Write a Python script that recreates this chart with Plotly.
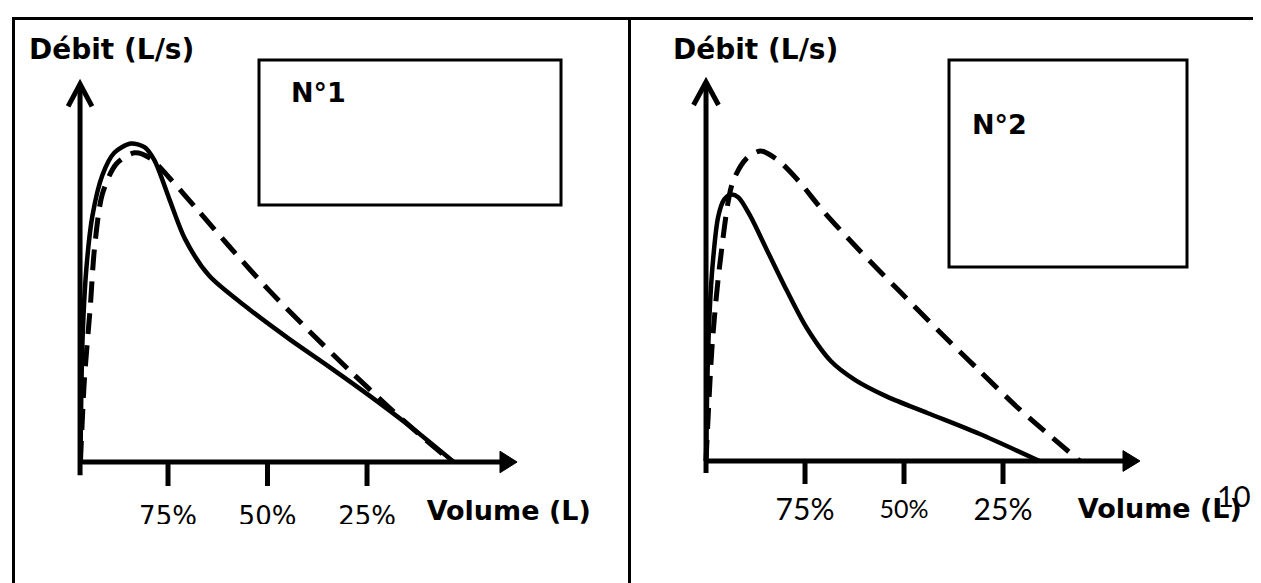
import plotly.graph_objects as go

W, H = 1261, 583

# ---------------- data (volume in % of vital capacity remaining, flow in L/s)
tick_vals = [75, 50, 25]
tick_labels = ["75%", "50%", "25%"]

vol1_solid = [97.0, 96.5, 95.5, 94.0, 91.5, 88.5, 84.4, 80.9, 78.4, 74.8, 70.8, 64.7, 54.6, 44.6, 34.5, 24.4, 14.3, 3.2]
flow1_solid = [0, 2.99, 4.85, 6.15, 7.17, 7.73, 7.96, 7.87, 7.54, 6.61, 5.59, 4.66, 3.82, 3.08, 2.38, 1.66, 0.90, 0]
vol1_dash = [97.0, 96.0, 94.5, 93.5, 91.5, 88.0, 83.4, 79.4, 74.8, 67.8, 59.7, 49.6, 39.5, 29.4, 19.3, 11.3, 3.6]
flow1_dash = [0, 2.06, 3.92, 5.31, 6.70, 7.45, 7.73, 7.59, 7.12, 6.33, 5.40, 4.29, 3.27, 2.29, 1.35, 0.64, 0]

vol2_solid = [100, 99.4, 98.4, 96.9, 95.4, 93.8, 91.8, 88.8, 84.7, 79.6, 74.6, 68.5, 62.4, 54.3, 44.1, 31.0, 15.8]
flow2_solid = [0, 2.96, 4.82, 6.12, 6.54, 6.66, 6.59, 6.12, 5.29, 4.26, 3.33, 2.50, 2.03, 1.61, 1.20, 0.68, 0]
vol2_dash = [100, 98.4, 96.4, 93.3, 89.8, 86.2, 81.7, 76.6, 70.5, 61.4, 51.3, 41.1, 31.0, 20.8, 5.6]
flow2_dash = [0, 2.96, 5.01, 6.96, 7.56, 7.75, 7.51, 7.00, 6.26, 5.28, 4.26, 3.24, 2.26, 1.29, 0]

panel_titles = ["N°1", "N°2"]
y_title = "Débit (L/s)"
x_title = "Volume (L)"
page_number = "10"

# ---------------- figure
fig = go.Figure()
BOLD = "DejaVu Sans"

def curves(xa, ya, vs, fs, vd, fd):
    fig.add_trace(go.Scatter(x=vd, y=fd, mode="lines", xaxis=xa, yaxis=ya,
                             line=dict(color="black", width=5, dash="21px,11px", shape="spline", smoothing=0.8),
                             hoverinfo="skip", showlegend=False))
    fig.add_trace(go.Scatter(x=vs, y=fs, mode="lines", xaxis=xa, yaxis=ya,
                             line=dict(color="black", width=4.5, shape="spline", smoothing=0.8),
                             hoverinfo="skip", showlegend=False))

curves("x", "y", vol1_solid, flow1_solid, vol1_dash, flow1_dash)
curves("x2", "y2", vol2_solid, flow2_solid, vol2_dash, flow2_dash)

shapes = []

def axes(xr, yr, origin, x_end, y_top, y_bot, tick_bot, chev_dx, chev_dy, tri_dx, tri_dy):
    line = dict(color="black", width=5)
    # y axis
    shapes.append(dict(type="line", xref=xr, yref=yr, x0=origin, x1=origin, y0=y_bot, y1=y_top, line=line))
    shapes.append(dict(type="path", xref=xr, yref=yr,
                       path=f"M{origin + chev_dx},{y_top - chev_dy} L{origin},{y_top} L{origin - chev_dx},{y_top - chev_dy}",
                       line=dict(color="black", width=5)))
    # x axis
    shapes.append(dict(type="line", xref=xr, yref=yr, x0=origin, x1=x_end + tri_dx * 0.5, y0=0, y1=0, line=line))
    shapes.append(dict(type="path", xref=xr, yref=yr,
                       path=f"M{x_end},0 L{x_end + tri_dx},{tri_dy} L{x_end + tri_dx},{-tri_dy} Z",
                       fillcolor="black", line=dict(color="black", width=1)))
    for tv in tick_vals:
        shapes.append(dict(type="line", xref=xr, yref=yr, x0=tv, x1=tv, y0=0, y1=tick_bot,
                           line=dict(color="black", width=5)))

axes("x", "y", 97.1, -12.7, 9.45, -0.33, -0.6, 3.0, 0.56, 4.3, 0.27)
axes("x2", "y2", 100.0, -9.6, 9.475, -0.3, -0.575, 3.15, 0.575, 4.3, 0.26)

# tick labels and x titles as text traces (clipped by the plot area like the original)
fig.add_trace(go.Scatter(x=tick_vals, y=[-1.42] * 3, text=tick_labels, mode="text", xaxis="x", yaxis="y",
                         textfont=dict(family="DejaVu Sans", size=26, color="black"),
                         textposition="middle center", cliponaxis=True, hoverinfo="skip", showlegend=False))
fig.add_trace(go.Scatter(x=[-10.6], y=[-1.29], text=[f"<b>{x_title}</b>"], mode="text", xaxis="x", yaxis="y",
                         textfont=dict(family=BOLD, size=27, color="black"),
                         textposition="middle center", cliponaxis=True, hoverinfo="skip", showlegend=False))

fig.add_trace(go.Scatter(x=tick_vals, y=[-1.275] * 3, text=tick_labels, mode="text", xaxis="x2", yaxis="y2",
                         textfont=dict(family="Lato", size=[30, 25, 30], color="black"),
                         textposition="middle center", cliponaxis=True, hoverinfo="skip", showlegend=False))
fig.add_trace(go.Scatter(x=[-14.6], y=[-1.25], text=[f"<b>{x_title}</b>"], mode="text", xaxis="x2", yaxis="y2",
                         textfont=dict(family=BOLD, size=27, color="black"),
                         textposition="middle center", cliponaxis=True, hoverinfo="skip", showlegend=False))
fig.add_trace(go.Scatter(x=[-33.3], y=[-0.97], text=[page_number], mode="text", xaxis="x2", yaxis="y2",
                         textfont=dict(family="Lato", size=29, color="black"),
                         textposition="middle center", cliponaxis=True, hoverinfo="skip", showlegend=False))

# page frame and boxes (paper coordinates)
def px(x):
    return x / W

def py(y):
    return 1 - y / H

frame = dict(color="black", width=3)
shapes += [
    dict(type="line", xref="paper", yref="paper", x0=px(4), x1=px(1261), y0=py(10.5), y1=py(10.5), line=frame),
    dict(type="line", xref="paper", yref="paper", x0=px(5.5), x1=px(5.5), y0=py(9), y1=py(583), line=frame),
    dict(type="line", xref="paper", yref="paper", x0=px(621.5), x1=px(621.5), y0=py(9), y1=py(583), line=frame),
    dict(type="line", xref="paper", yref="paper", x0=px(1259.5), x1=px(1259.5), y0=py(9), y1=py(583),
         line=dict(color="#8a8a8a", width=1)),
    dict(type="rect", xref="paper", yref="paper", x0=px(251), x1=px(553), y0=py(52), y1=py(197),
         line=dict(color="black", width=3)),
    dict(type="rect", xref="paper", yref="paper", x0=px(941), x1=px(1179), y0=py(52), y1=py(259),
         line=dict(color="black", width=3)),
]

annotations = [
    dict(xref="paper", yref="paper", x=px(103.5), y=py(41), text=f"<b>{y_title}</b>", showarrow=False,
         font=dict(family=BOLD, size=28, color="black"), xanchor="center", yanchor="middle"),
    dict(xref="paper", yref="paper", x=px(747.5), y=py(41), text=f"<b>{y_title}</b>", showarrow=False,
         font=dict(family=BOLD, size=28, color="black"), xanchor="center", yanchor="middle"),
    dict(xref="paper", yref="paper", x=px(310), y=py(84), text=f"<b>{panel_titles[0]}</b>", showarrow=False,
         font=dict(family=BOLD, size=27, color="black"), xanchor="center", yanchor="middle"),
    dict(xref="paper", yref="paper", x=px(991), y=py(116), text=f"<b>{panel_titles[1]}</b>", showarrow=False,
         font=dict(family=BOLD, size=27, color="black"), xanchor="center", yanchor="middle"),
]

ydom = [1 - 516 / H, 1]
hidden = dict(visible=False, showgrid=False, zeroline=False, fixedrange=True)
fig.update_layout(
    width=W, height=H,
    margin=dict(l=0, r=0, t=0, b=0),
    paper_bgcolor="white", plot_bgcolor="rgba(0,0,0,0)",
    showlegend=False,
    xaxis=dict(domain=[0, 0.5], range=[115.2, -43.2], **hidden),
    yaxis=dict(domain=ydom, range=[-1.55, 11.35], **hidden),
    xaxis2=dict(domain=[0.5, 1], range=[117.05, -42.17], anchor="y2", **hidden),
    yaxis2=dict(domain=ydom, range=[-1.575, 11.325], anchor="x2", **hidden),
    shapes=shapes,
    annotations=annotations,
)

fig.write_html("out.html", config={"displayModeBar": False})
